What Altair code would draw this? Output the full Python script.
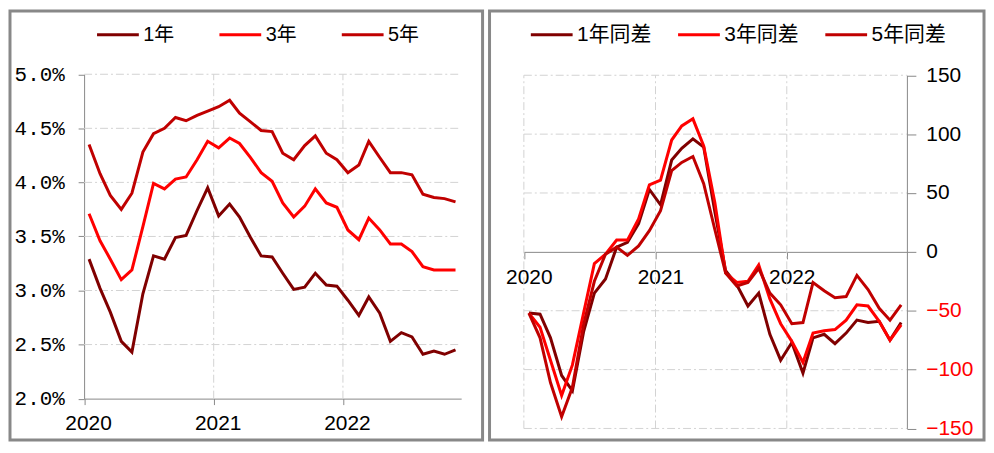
import altair as alt
import pandas as pd

# ---------------- data ----------------
month_starts = pd.date_range("2020-01-01", periods=35, freq="MS")
dates = [(d + pd.Timedelta(days=14)).strftime("%Y-%m-%dT00:00:00") for d in month_starts]

series_left = ["1年", "3年", "5年"]
series_right = ["1年同差", "3年同差", "5年同差"]
colors = ["#800000", "#FF0000", "#C00000"]

# yields, %
yield_1y = [3.29, 3.02, 2.80, 2.53, 2.43, 2.97, 3.32, 3.29, 3.49, 3.51, 3.74, 3.95,
            3.69, 3.80, 3.68, 3.49, 3.32, 3.31, 3.16, 3.01, 3.03, 3.16, 3.05, 3.04,
            2.91, 2.77, 2.94, 2.79, 2.53, 2.61, 2.57, 2.41, 2.44, 2.41, 2.45]
yield_3y = [3.71, 3.46, 3.29, 3.10, 3.19, 3.59, 3.99, 3.94, 4.03, 4.05, 4.21, 4.38,
            4.32, 4.41, 4.36, 4.23, 4.09, 4.01, 3.81, 3.68, 3.78, 3.94, 3.81, 3.77,
            3.56, 3.47, 3.67, 3.56, 3.43, 3.43, 3.36, 3.22, 3.19, 3.19, 3.19]
yield_5y = [4.35, 4.08, 3.88, 3.75, 3.90, 4.28, 4.45, 4.50, 4.60, 4.57, 4.62, 4.66,
            4.70, 4.76, 4.64, 4.56, 4.48, 4.47, 4.27, 4.21, 4.34, 4.43, 4.27, 4.21,
            4.09, 4.16, 4.38, 4.23, 4.09, 4.09, 4.07, 3.89, 3.86, 3.85, 3.82]

# year-over-year differences, bp
diff_1y = [-52, -53, -73, -105, -118, -68, -35, -23, 4, 8, 24, 53,
           40, 78, 88, 96, 89, 34, -16, -28, -46, -35, -70, -92,
           -77, -103, -73, -70, -78, -69, -58, -60, -59, -75, -60]
diff_3y = [-52, -64, -92, -122, -96, -52, -10, -2, 10, 10, 28, 57,
           61, 95, 107, 113, 90, 42, -18, -26, -25, -11, -40, -61,
           -76, -94, -69, -67, -66, -58, -45, -46, -59, -75, -62]
diff_5y = [-52, -73, -111, -140, -115, -62, -25, -2, 4, -3, 5, 18,
           35, 69, 76, 81, 58, 19, -18, -29, -26, -14, -35, -45,
           -61, -60, -26, -33, -39, -38, -20, -32, -48, -58, -45]

left_ticks = [2.0, 2.5, 3.0, 3.5, 4.0, 4.5, 5.0]
right_ticks = [-150, -100, -50, 0, 50, 100, 150]
year_labels = [2020, 2021, 2022]
x_start = "2020-01-01T00:00:00"
x_end = "2022-12-01T00:00:00"

# ---------------- tables ----------------
left_df = pd.DataFrame({
    "date": dates * 3,
    "series": [s for s in series_left for _ in dates],
    "value": [v / 100 for v in yield_1y + yield_3y + yield_5y],
})
right_df = pd.DataFrame({
    "date": dates * 3,
    "series": [s for s in series_right for _ in dates],
    "value": diff_1y + diff_3y + diff_5y,
})

left_hgrid = pd.DataFrame({"y": [t / 100 for t in left_ticks[1:]], "x0": x_start, "x1": x_end})
left_vgrid = pd.DataFrame({"x": [f"{y}-01-01T00:00:00" for y in year_labels[1:]],
                           "y0": left_ticks[0] / 100, "y1": left_ticks[-1] / 100})
right_hgrid = pd.DataFrame({"y": [t for t in right_ticks if t != 0], "x0": x_start, "x1": x_end})
right_vgrid = pd.DataFrame({"x": [f"{y}-01-01T00:00:00" for y in year_labels],
                            "y0": right_ticks[0], "y1": right_ticks[-1]})

# ---------------- style ----------------
GRAY = "#888888"
GRID = "#D3D3D3"
DASH = [8, 3, 2, 3]
FONT = "Liberation Sans, Noto Sans CJK SC"
H = 431
W_LEFT = 475
W_RIGHT = 497

year_dt = [alt.DateTime(year=y, month=1, date=1) for y in year_labels]
x_domain = [alt.DateTime(year=2020, month=1, date=1), alt.DateTime(year=2022, month=12, date=1)]

# ---------------- left panel ----------------
L_Y0, L_Y1 = 389.5, 63.5
L_X0 = 74.5
xs_l = alt.Scale(domain=x_domain, range=[L_X0, 453.5])
ys_l = alt.Scale(domain=[left_ticks[0] / 100, left_ticks[-1] / 100], range=[L_Y0, L_Y1], zero=False, nice=False)
xa_l = alt.Axis(values=year_dt, format="%Y", offset=L_Y0 - H, domainColor=GRAY, tickColor=GRAY,
                tickSize=6, labelFont=FONT, labelFontSize=21, labelColor="black",
                labelPadding=8, labelOffset=4, labelFlush=False, labelOverlap=False,
                grid=False, title=None)
ya_l = alt.Axis(values=[t / 100 for t in left_ticks], format=".1%", offset=-L_X0,
                domainColor=GRAY, tickColor=GRAY, tickSize=6,
                labelFont="Liberation Mono", labelFontSize=21, labelColor="black",
                labelPadding=14, labelFlush=False, labelOverlap=False,
                grid=False, title=None)

l_hgrid = alt.Chart(left_hgrid).mark_rule(color=GRID, strokeWidth=1, strokeDash=DASH).encode(
    x=alt.X("x0:T", scale=xs_l, axis=xa_l), x2="x1:T",
    y=alt.Y("y:Q", scale=ys_l, axis=ya_l))
l_vgrid = alt.Chart(left_vgrid).mark_rule(color=GRID, strokeWidth=1, strokeDash=DASH).encode(
    x=alt.X("x:T", scale=xs_l, axis=xa_l),
    y=alt.Y("y0:Q", scale=ys_l, axis=ya_l), y2="y1:Q")

l_lines = alt.Chart(left_df).mark_line(strokeWidth=3).encode(
    x=alt.X("date:T", scale=xs_l, axis=xa_l),
    y=alt.Y("value:Q", scale=ys_l, axis=ya_l),
    color=alt.Color("series:N", scale=alt.Scale(domain=series_left, range=colors),
                    legend=alt.Legend(orient="none", legendX=86, legendY=1, direction="horizontal",
                                      title=None, symbolType="stroke", symbolSize=1764,
                                      symbolStrokeWidth=3, labelFont=FONT, labelFontSize=20,
                                      labelColor="black", labelOffset=3, columnPadding=38)),
    order=alt.Order("series:N"),
)

left = alt.layer(l_hgrid, l_vgrid, l_lines).properties(width=W_LEFT, height=H)

# ---------------- right panel ----------------
R_Y0, R_Y1 = 419.5, 64.5
R_X1 = 419.5
xs_r = alt.Scale(domain=x_domain, range=[34.5, R_X1])
ys_r = alt.Scale(domain=[right_ticks[0], right_ticks[-1]], range=[R_Y0, R_Y1], zero=False, nice=False)
xa_r = alt.Axis(values=year_dt, format="%Y", offset=(R_Y0 + R_Y1) / 2 - H, domainColor=GRAY, tickColor=GRAY,
                tickSize=7, labelFont=FONT, labelFontSize=21, labelColor="black",
                labelPadding=8, labelOffset=5, labelFlush=False, labelOverlap=False,
                grid=False, title=None)
ya_r = alt.Axis(orient="right", values=right_ticks, offset=R_X1 - W_RIGHT,
                domainColor=GRAY, tickColor=GRAY, tickSize=9,
                labelFont=FONT, labelFontSize=21,
                labelColor=alt.condition("datum.value < 0", alt.value("#FF0000"), alt.value("black")),
                labelPadding=10, labelFlush=False, labelOverlap=False,
                grid=False, title=None)

r_hgrid = alt.Chart(right_hgrid).mark_rule(color=GRID, strokeWidth=1, strokeDash=DASH).encode(
    x=alt.X("x0:T", scale=xs_r, axis=xa_r), x2="x1:T",
    y=alt.Y("y:Q", scale=ys_r, axis=ya_r))
r_vgrid = alt.Chart(right_vgrid).mark_rule(color=GRID, strokeWidth=1, strokeDash=DASH).encode(
    x=alt.X("x:T", scale=xs_r, axis=xa_r),
    y=alt.Y("y0:Q", scale=ys_r, axis=ya_r), y2="y1:Q")

r_lines = alt.Chart(right_df).mark_line(strokeWidth=3).encode(
    x=alt.X("date:T", scale=xs_r, axis=xa_r),
    y=alt.Y("value:Q", scale=ys_r, axis=ya_r),
    color=alt.Color("series:N", scale=alt.Scale(domain=series_right, range=colors),
                    legend=alt.Legend(orient="none", legendX=40, legendY=1, direction="horizontal",
                                      title=None, symbolType="stroke", symbolSize=1764,
                                      symbolStrokeWidth=3, labelFont=FONT, labelFontSize=21,
                                      labelColor="black", labelOffset=3, columnPadding=20)),
    order=alt.Order("series:N"),
)

right = alt.layer(r_hgrid, r_vgrid, r_lines).properties(width=W_RIGHT, height=H)

chart = (
    alt.hconcat(left, right, spacing=3)
    .resolve_scale(color="independent")
    .properties(padding=0)
    .configure_view(stroke=GRAY, strokeWidth=3)
)

chart.save("out.html", embed_options={"renderer": "svg", "actions": False})
